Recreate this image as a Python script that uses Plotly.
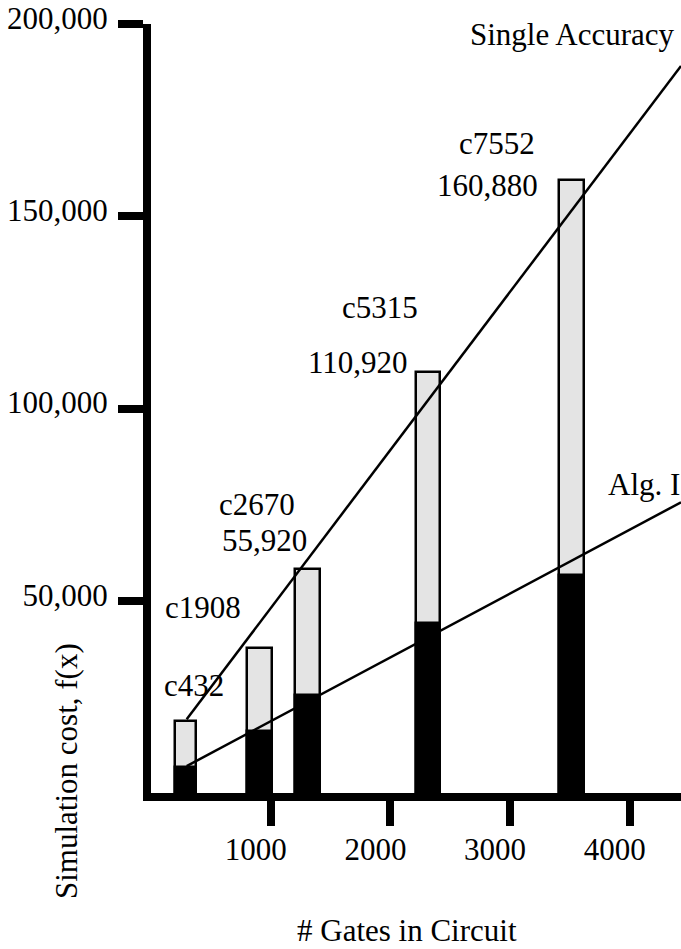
import plotly.graph_objects as go

# ---- data ----
circuits = ["c432", "c1908", "c2670", "c5315", "c7552"]
gates = [289, 908, 1305, 2314, 3515]
single_accuracy_cost = [18700, 37700, 58300, 109500, 159400]
alg1_cost = [6800, 16100, 25500, 44200, 56700]
cost_labels = ["", "", "55,920", "110,920", "160,880"]

line_x = [298, 4428]
single_line_y = [19200, 189100]
alg1_line_y = [7000, 75600]

x_ticks = [1000, 2000, 3000, 4000]
y_ticks = [50000, 100000, 150000, 200000]

W, H = 681, 949
L, R, T, B = 151, 0, 24, 156
PW, PH = W - L - R, H - T - B
FONT = "Liberation Serif, Times New Roman, serif"
FS = 31

def px(x):
    return (x - L) / PW

def py(y):
    return (H - B - y) / PH

fig = go.Figure()
fig.add_trace(go.Bar(x=gates, y=single_accuracy_cost, width=[170, 205, 210, 205, 210],
                     marker=dict(color="#e4e4e4", line=dict(color="black", width=2.5)),
                     hoverinfo="skip"))
fig.add_trace(go.Bar(x=gates, y=alg1_cost, width=[170, 205, 210, 205, 210],
                     marker=dict(color="black", line=dict(color="black", width=2.5)),
                     hoverinfo="skip"))
fig.add_trace(go.Scatter(x=line_x, y=single_line_y, mode="lines",
                         line=dict(color="black", width=2.5), hoverinfo="skip"))
fig.add_trace(go.Scatter(x=line_x, y=alg1_line_y, mode="lines",
                         line=dict(color="black", width=2.5), hoverinfo="skip"))

anns = []
def ann(text, x, baseline, anchor="left", angle=0, yanchor="middle"):
    anns.append(dict(text=text, x=px(x), y=py(baseline - 10), xref="paper", yref="paper",
                     xanchor=anchor, yanchor=yanchor, showarrow=False, textangle=angle,
                     font=dict(family=FONT, size=FS, color="black")))

# circuit names and cost labels
name_pos = [(162, 695), (163, 617), (217, 514), (340, 317), (457, 153)]
for name, (x, b) in zip(circuits, name_pos):
    ann(name, x, b)
cost_pos = [None, None, (309, 550), (410, 373), (540, 195)]
for lab, pos in zip(cost_labels, cost_pos):
    if lab and pos:
        ann(lab, pos[0], pos[1], anchor="right")

ann("Single Accuracy", 468, 45)
ann("Alg. I", 606, 495)
ann("# Gates in Circuit", 295, 940)
anns.append(dict(text="Simulation cost, f(x)", x=px(66), y=py(771), xref="paper", yref="paper",
                 xanchor="center", yanchor="middle", showarrow=False, textangle=-90,
                 font=dict(family=FONT, size=FS, color="black")))

fig.update_layout(
    width=W, height=H,
    margin=dict(l=L, r=R, t=T, b=B, pad=0),
    plot_bgcolor="white", paper_bgcolor="white",
    showlegend=False, barmode="overlay", bargap=0,
    font=dict(family=FONT, size=FS, color="black"),
    annotations=anns,
)
fig.update_xaxes(range=[0, 4428], showline=True, linewidth=8, linecolor="black",
                 ticks="outside", ticklen=25, tickwidth=8, tickcolor="black",
                 tickvals=x_ticks, showgrid=False, zeroline=False,
                 ticklabelshift=-15, ticklabelstandoff=-3)
fig.update_yaxes(range=[0, 200000], showline=True, linewidth=8, linecolor="black",
                 ticks="outside", ticklen=25, tickwidth=8, tickcolor="black",
                 tickvals=y_ticks, tickformat=",", showgrid=False, zeroline=False,
                 ticklabelshift=-6, ticklabelstandoff=4)

fig.write_html("out.html", config={"displayModeBar": False},
               post_script="document.body.style.margin='0';document.body.style.padding='0';")
